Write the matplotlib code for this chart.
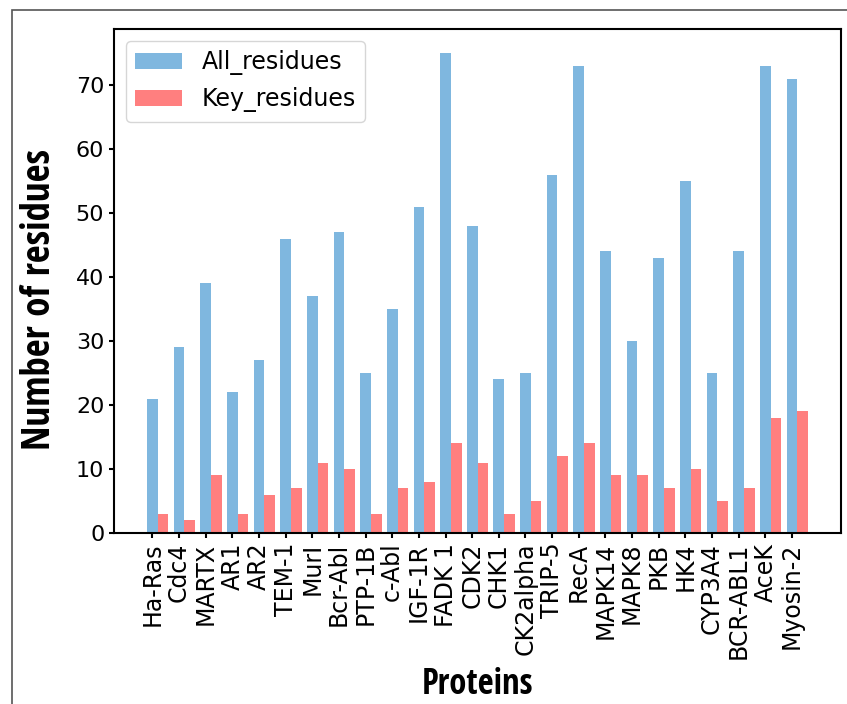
import numpy as np
import matplotlib
matplotlib.use('Agg')
import matplotlib.pyplot as plt
from matplotlib.patches import Rectangle

proteins = ['Ha-Ras', 'Cdc4', 'MARTX', 'AR1', 'AR2', 'TEM-1', 'MurI', 'Bcr-Abl',
            'PTP-1B', 'c-Abl', 'IGF-1R', 'FADK 1', 'CDK2', 'CHK1', 'CK2alpha',
            'TRIP-5', 'RecA', 'MAPK14', 'MAPK8', 'PKB', 'HK4', 'CYP3A4',
            'BCR-ABL1', 'AceK', 'Myosin-2']
all_residues = [21, 29, 39, 22, 27, 46, 37, 47, 25, 35, 51, 75, 48, 24, 25,
                56, 73, 44, 30, 43, 55, 25, 44, 73, 71]
key_residues = [3, 2, 9, 3, 6, 7, 11, 10, 3, 7, 8, 14, 11, 3, 5,
                12, 14, 9, 9, 7, 10, 5, 7, 18, 19]

W, H = 847, 704
fig = plt.figure(figsize=(W / 100, H / 100), dpi=100)
ax = fig.add_axes([114 / W, 1 - 533 / H, (841 - 114) / W, (533 - 29) / H])

# outer frame of the original screenshot
fig.add_artist(Rectangle((12 / W, -0.1), 1.2, 1 - 10 / H + 0.1,
                         transform=fig.transFigure, fill=False,
                         edgecolor='#555555', linewidth=1.2))

x = np.arange(len(proteins))
width = 0.4
ax.bar(x, all_residues, width, color='#0070C0', alpha=0.5, label='All_residues')
ax.bar(x + width, key_residues, width, color='red', alpha=0.5, label='Key_residues')

ax.set_xticks(x)
ax.set_xticklabels(proteins, rotation=90, fontsize=17)
ax.tick_params(axis='y', labelsize=16)
ax.tick_params(width=1.5)
for s in ax.spines.values():
    s.set_linewidth(1.5)

cond = ['Open Sans Condensed', 'DejaVu Sans']
ax.set_xlabel('Proteins', labelpad=6, family=cond, fontweight='bold', fontsize=25)
ax.set_ylabel('Number of residues', family=cond, fontweight='bold', fontsize=28)
ax.yaxis.set_label_coords(-0.074, 0.464)

ax.legend(loc='upper left', fontsize=17)

fig.savefig('out.png', dpi=100)
